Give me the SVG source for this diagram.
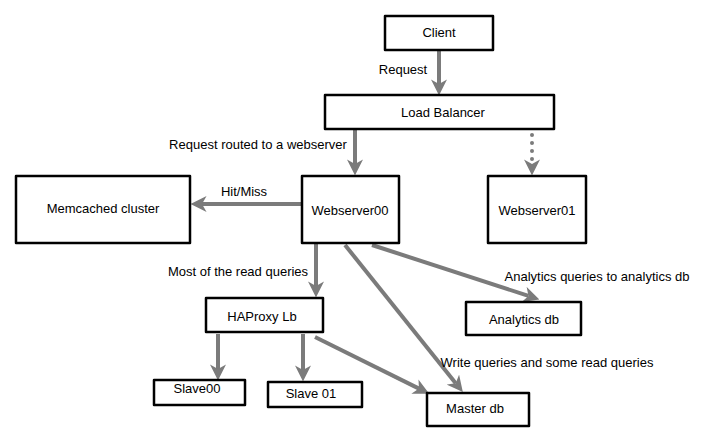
<svg xmlns="http://www.w3.org/2000/svg" width="710" height="443" viewBox="0 0 710 443">
<style>
.box{fill:#fff;stroke:#000;stroke-width:2.5;stroke-linejoin:round}
.t{font-family:"Liberation Sans",Arial,sans-serif;font-size:13px;fill:#000;text-anchor:middle}
.c{stroke:#7b7b7b;stroke-width:4;fill:none;marker-end:url(#ah)}
.d{stroke-dasharray:0 8;stroke-linecap:round}
</style>
<defs>
<marker id="ah" markerUnits="userSpaceOnUse" markerWidth="16" markerHeight="16" viewBox="0 0 14 14" refX="4" refY="7" orient="auto">
<path d="M0,0 L14,7 L0,14 L4,7 Z" fill="#7b7b7b"/>
</marker>
</defs>
<rect width="710" height="443" fill="#fff"/>
<g id="connectors">
<line class="c" x1="439" y1="51" x2="439" y2="84"/>
<line class="c" x1="355" y1="130" x2="355" y2="164"/>
<line class="c d" x1="532" y1="135" x2="532" y2="164"/>
<line class="c" x1="302" y1="204" x2="202" y2="204"/>
<line class="c" x1="316" y1="244" x2="316" y2="286"/>
<line class="c" x1="372" y1="245" x2="528.5" y2="295.9"/>
<line class="c" x1="345" y1="245" x2="455.7" y2="383.2"/>
<line class="c" x1="218" y1="334" x2="218" y2="369"/>
<line class="c" x1="303" y1="334" x2="303" y2="370"/>
<line class="c" x1="315" y1="337" x2="419" y2="388.6"/>
</g>
<g id="labels">
<text class="t" x="403" y="74">Request</text>
<text class="t" x="258" y="149">Request routed to a webserver</text>
<text class="t" x="244" y="196">Hit/Miss</text>
<text class="t" x="238" y="276">Most of the read queries</text>
<text class="t" x="597" y="281">Analytics queries to analytics db</text>
<text class="t" x="547" y="367">Write queries and some read queries</text>
</g>
<g id="client"><rect class="box" x="385" y="16" width="108" height="34"/><text class="t" x="439" y="37">Client</text></g>
<g id="loadbalancer"><rect class="box" x="325" y="95" width="229" height="34"/><text class="t" x="443" y="117">Load Balancer</text></g>
<g id="memcached"><rect class="box" x="16" y="176" width="174" height="67"/><text class="t" x="103" y="213">Memcached cluster</text></g>
<g id="webserver00"><rect class="box" x="302" y="176" width="97" height="67"/><text class="t" x="350" y="215">Webserver00</text></g>
<g id="webserver01"><rect class="box" x="488" y="176" width="98" height="67"/><text class="t" x="537" y="215">Webserver01</text></g>
<g id="haproxy"><rect class="box" x="206" y="298" width="117" height="34"/><text class="t" x="262" y="321">HAProxy Lb</text></g>
<g id="analyticsdb"><rect class="box" x="466" y="302" width="115" height="33"/><text class="t" x="524" y="324">Analytics db</text></g>
<g id="slave00"><rect class="box" x="154" y="380" width="91" height="25"/><text class="t" x="197" y="393">Slave00</text></g>
<g id="slave01"><rect class="box" x="268" y="382" width="94" height="25"/><text class="t" x="311" y="398">Slave 01</text></g>
<g id="masterdb"><rect class="box" x="427" y="393" width="102" height="33"/><text class="t" x="475" y="413">Master db</text></g>
</svg>
